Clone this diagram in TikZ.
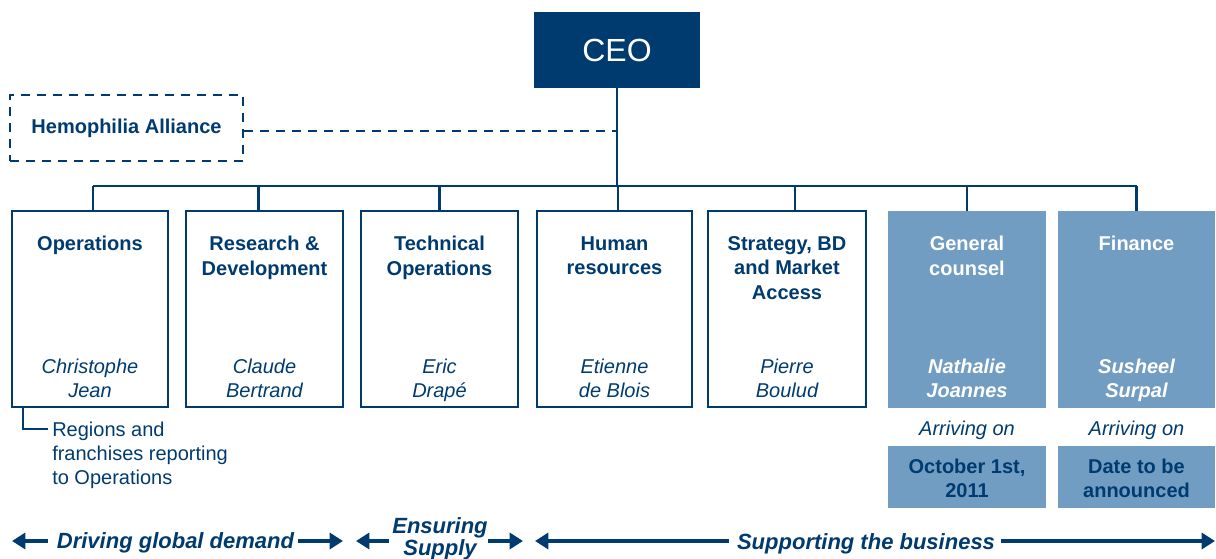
\documentclass[tikz,border=0pt]{standalone}
\usepackage{fontspec}
\setmainfont{Liberation Sans}
\usetikzlibrary{arrows.meta,fit}
\definecolor{navy}{RGB}{0,59,112}
\definecolor{steel}{RGB}{114,157,194}
\begin{document}
\begin{tikzpicture}[x=0.75pt,y=-0.75pt,
  obox/.style={draw=navy,line width=1.7pt,inner sep=0pt},
  fbox/.style={fill=steel,draw=none,inner sep=0pt},
  ttl/.style={anchor=north,align=center,inner sep=0pt,text=navy,
    font=\fontsize{15}{18.4}\selectfont\bfseries},
  nm/.style={anchor=north,align=center,inner sep=0pt,text=navy,
    font=\fontsize{15}{18}\selectfont\itshape},
  wttl/.style={ttl,text=white},
  wnm/.style={nm,text=white,font=\fontsize{15}{18}\selectfont\bfseries\itshape},
  conn/.style={draw=navy,line width=1.7pt},
  dline/.style={draw=navy,line width=2pt,dash pattern=on 6.75pt off 5.25pt},
  barrow/.style={draw=navy,line width=3pt,-{Triangle[length=10pt,width=12pt]}},
  btxt/.style={anchor=base,inner sep=0pt,text=navy,
    font=\fontsize{16.5}{15}\selectfont\bfseries\itshape}]
\useasboundingbox (0,0) rectangle (1216,559);

% CEO
\node[fill=navy,inner sep=0pt,fit={(534,12) (700,88)}] (ceo) {};
\node[text=white,font=\fontsize{24}{24}\selectfont,inner sep=0pt] (ceot) at (ceo.center) {CEO};

% Hemophilia Alliance
\node[dline,inner sep=0pt,fit={(10,95) (243,161)}] (hem) {};
\node[text=navy,font=\fontsize{15}{18}\selectfont\bfseries,inner sep=0pt] (hemt) at (hem.center) {Hemophilia Alliance};

% boxes
\node[obox,fit={(12,211) (168,407)}] (ops) {};
\node[obox,fit={(186,211) (343,407)}] (rd) {};
\node[obox,fit={(361,211) (518,407)}] (tech) {};
\node[obox,fit={(537,211) (692,407)}] (hr) {};
\node[obox,fit={(708,211) (866,407)}] (str) {};
\node[fbox,fit={(888,211) (1046,408)}] (gc) {};
\node[fbox,fit={(1058,211) (1215,408)}] (fin) {};
\node[fbox,fit={(888,446) (1046,508)}] (gcd) {};
\node[fbox,fit={(1058,446) (1215,508)}] (find) {};

% titles
\node[ttl] (opsT) at (ops.north |- 0,236) {Operations};
\node[ttl] (rdT) at (rd.north |- 0,236) {Research \&\\Development};
\node[ttl] (techT) at (tech.north |- 0,236) {Technical\\Operations};
\node[ttl] (hrT) at (hr.north |- 0,236) {Human\\resources};
\node[ttl] (strT) at (str.north |- 0,236) {Strategy, BD\\and Market\\Access};
\node[wttl] (gcT) at (gc.north |- 0,236) {General\\counsel};
\node[wttl] (finT) at (fin.north |- 0,236) {Finance};

% names
\node[nm] (opsN) at (ops.north |- 0,358.5) {Christophe\\Jean};
\node[nm] (rdN) at (rd.north |- 0,358.5) {Claude\\Bertrand};
\node[nm] (techN) at (tech.north |- 0,358.5) {Eric\\Drapé};
\node[nm] (hrN) at (hr.north |- 0,358.5) {Etienne\\de Blois};
\node[nm] (strN) at (str.north |- 0,358.5) {Pierre\\Boulud};
\node[wnm] (gcN) at (gc.north |- 0,358.5) {Nathalie\\Joannes};
\node[wnm] (finN) at (fin.north |- 0,358.5) {Susheel\\Surpal};

% arriving
\node[nm,anchor=base] (gcA) at (gc.north |- 0,435.5) {Arriving on};
\node[nm,anchor=base] (finA) at (fin.north |- 0,435.5) {Arriving on};
\node[ttl] (gcDT) at (gcd.north |- 0,458.5) {October 1st,\\2011};
\node[ttl] (finDT) at (find.north |- 0,458.5) {Date to be\\announced};

% regions note
\node[anchor=north west,align=left,inner sep=0pt,text=navy,
  font=\fontsize{15}{18.2}\selectfont] (reg) at (52,421.5)
  {Regions and\\franchises reporting\\to Operations};
\coordinate (rb) at (23,429);
\coordinate (re) at (48,429);
\draw[navy,line width=1pt] (rb |- ops.south) -- (rb) -- (re);

% connectors
\coordinate (bus) at (0,186);
\draw[conn] (ceo.south) -- (ceo.south |- bus);
\draw[conn] ([xshift=2]ops.north |- bus) -- (fin.north |- bus);
\draw[conn] ([xshift=2]ops.north) -- ([xshift=2]ops.north |- bus);
\draw[conn] ([xshift=-4.5]rd.north) -- ([xshift=-4.5]rd.north |- bus);
\draw[conn] (tech.north) -- (tech.north |- bus);
\draw[conn] ([xshift=2.5]hr.north) -- ([xshift=2.5]hr.north |- bus);
\draw[conn] ([xshift=6]str.north) -- ([xshift=6]str.north |- bus);
\draw[conn] (gc.north) -- (gc.north |- bus);
\draw[conn] (fin.north) -- (fin.north |- bus);
\coordinate (dl) at (0,131);
\draw[dline] (hem.east |- dl) -- (ceo.south |- dl);

% bottom labels
\node[btxt] (drv) at (175.5,548) {Driving global demand};
\node[btxt,anchor=north,align=center] (ens) at (440,517) {Ensuring\\Supply};
\node[btxt] (sup) at (866,549) {Supporting the business};
\coordinate (d1) at (48,541);  \coordinate (d0) at (12,541);
\coordinate (d2) at (298,541); \coordinate (d3) at (343,541);
\coordinate (e1) at (389,541); \coordinate (e0) at (356,541);
\coordinate (e2) at (488,541); \coordinate (e3) at (523,541);
\coordinate (s1) at (729,541); \coordinate (s0) at (535,541);
\coordinate (s2) at (1001,541); \coordinate (s3) at (1215,541);
\draw[barrow] (d1) -- (d0);
\draw[barrow] (d2) -- (d3);
\draw[barrow] (e1) -- (e0);
\draw[barrow] (e2) -- (e3);
\draw[barrow] (s1) -- (s0);
\draw[barrow] (s2) -- (s3);
\end{tikzpicture}
\end{document}
